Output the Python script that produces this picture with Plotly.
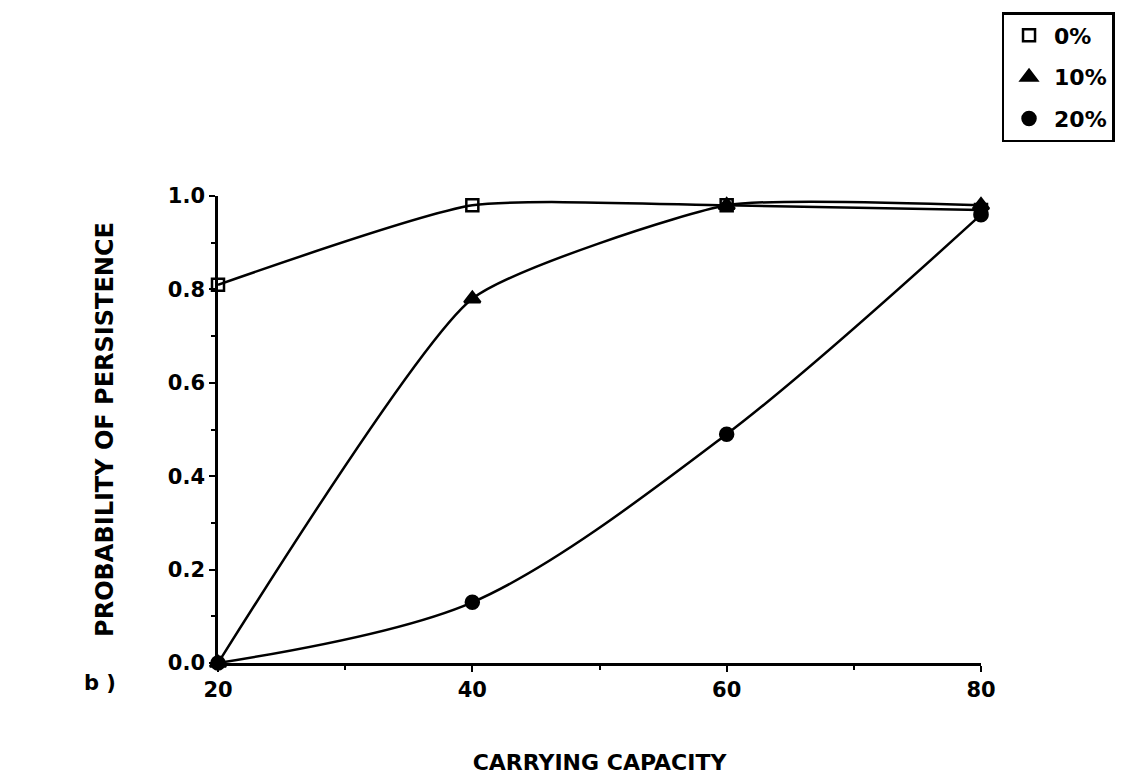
import plotly.graph_objects as go

# Carrying capacity values on the x axis
capacity = [20, 40, 60, 80]

# Probability of persistence for each level
labels = ["0%", "10%", "20%"]
p_0 = [0.81, 0.98, 0.98, 0.97]
p_10 = [0.0, 0.78, 0.98, 0.98]
p_20 = [0.0, 0.13, 0.49, 0.96]

series = [p_0, p_10, p_20]
symbols = ["square-open", "triangle-up", "circle"]
sizes = [12, 14, 13]
smooth = [0.55, 0.5, 0.9]

FONT = "DejaVu Sans"
INK = "black"
BOLD = dict(family=FONT, color=INK, weight="bold")

fig = go.Figure()

for vals, sym, sz, sm in zip(series, symbols, sizes, smooth):
    fig.add_trace(go.Scatter(
        x=capacity, y=vals,
        mode="lines+markers",
        line=dict(color=INK, width=2.5, shape="spline", smoothing=sm),
        marker=dict(symbol=sym, size=sz, color=INK,
                    line=dict(color=INK, width=2.5)),
        cliponaxis=False,
        showlegend=False,
    ))

# Marker-only legend entries
for i, (lab, sym, sz) in enumerate(zip(labels, symbols, sizes)):
    fig.add_trace(go.Scatter(
        x=[None], y=[None],
        mode="markers",
        name=lab,
        legendgroup=f"g{i}",
        marker=dict(symbol=sym, size=sz, color=INK,
                    line=dict(color=INK, width=2.5)),
    ))

axis_common = dict(
    showline=True, linecolor=INK, linewidth=2.5,
    showgrid=False, zeroline=False,
    ticks="outside", ticklen=6, tickwidth=2, tickcolor=INK,
    tickfont=dict(size=21, **BOLD),
    mirror=False,
)

fig.update_xaxes(
    range=[20, 80], tickvals=capacity, ticktext=[str(v) for v in capacity],
    minor=dict(dtick=10, tick0=20, ticks="outside", ticklen=4,
               tickwidth=2, tickcolor=INK),
    title=dict(text="CARRYING CAPACITY", font=dict(size=22, **BOLD),
               standoff=54),
    **axis_common,
)
fig.update_yaxes(
    range=[0, 1], tickvals=[0, 0.2, 0.4, 0.6, 0.8, 1.0],
    ticktext=["0.0", "0.2", "0.4", "0.6", "0.8", "1.0"],
    minor=dict(dtick=0.1, tick0=0, ticks="outside", ticklen=4,
               tickwidth=2, tickcolor=INK),
    title=dict(text="PROBABILITY OF PERSISTENCE", font=dict(size=24, **BOLD),
               standoff=48),
    **axis_common,
)

fig.add_annotation(
    text="b )", xref="paper", yref="paper",
    x=-0.155, y=0, yshift=-20, xanchor="center", yanchor="middle",
    showarrow=False, font=dict(size=21, **BOLD),
)

fig.update_layout(
    width=1126, height=782,
    margin=dict(l=218, r=138, t=193, b=119),
    paper_bgcolor="white", plot_bgcolor="white",
    font=dict(family=FONT, color=INK),
    legend=dict(
        x=1.175, y=1.394, xanchor="right", yanchor="top",
        bordercolor=INK, borderwidth=2.5, bgcolor="white",
        font=dict(size=22, **BOLD),
        tracegroupgap=10, itemwidth=40,
    ),
)

fig.write_html("out.html")
